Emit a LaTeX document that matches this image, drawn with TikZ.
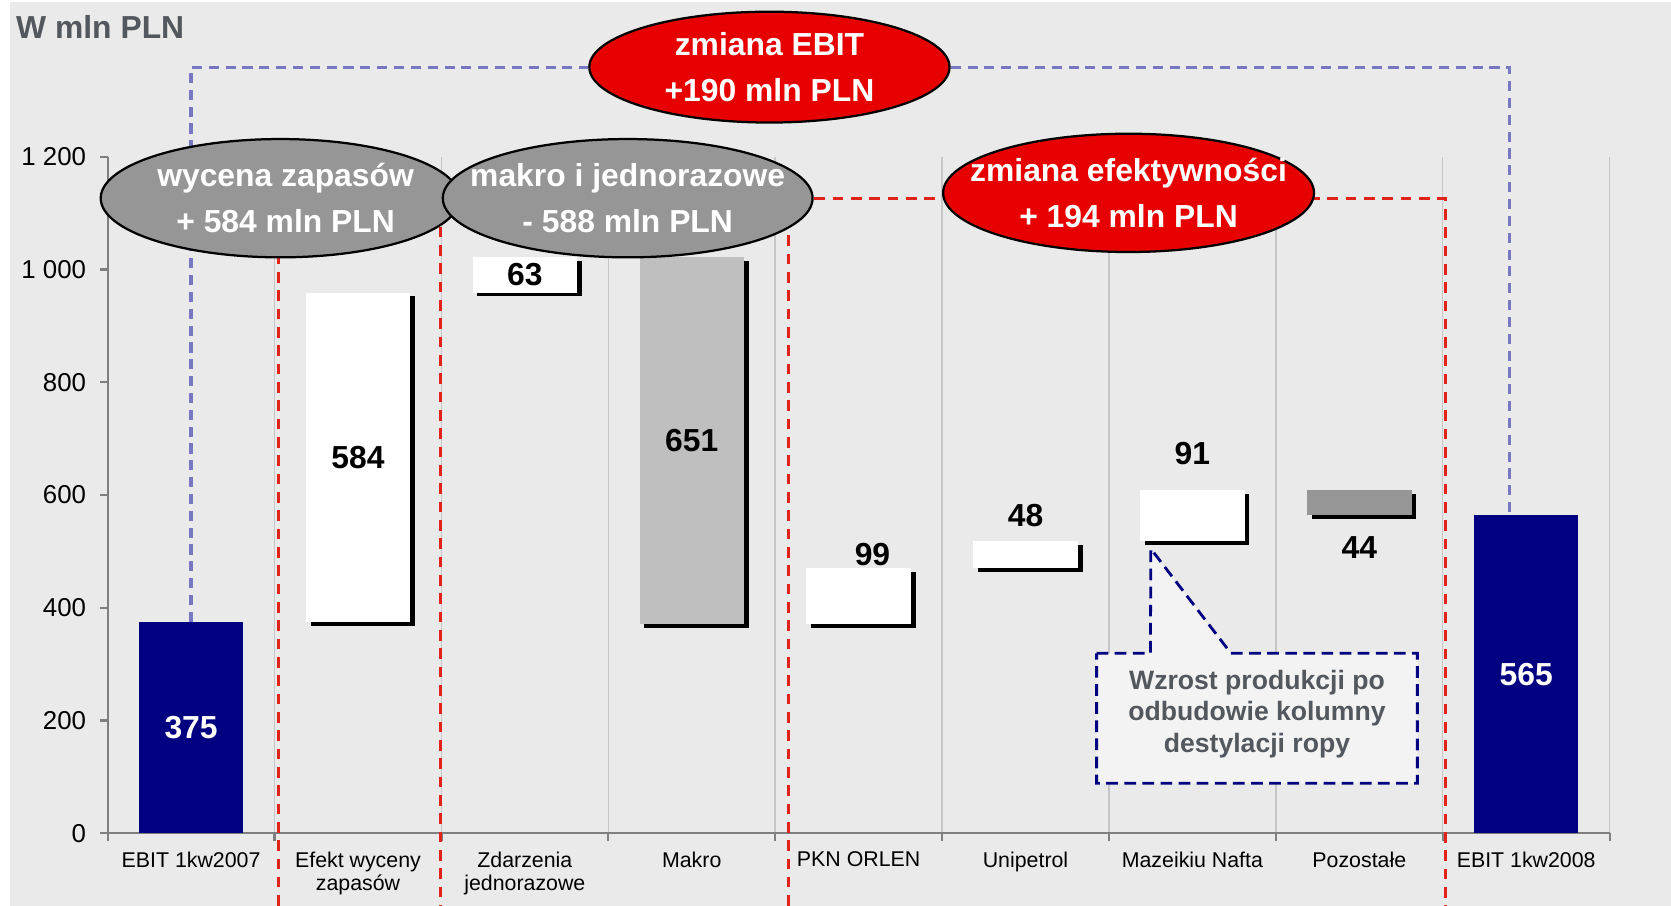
\documentclass[tikz,border=0pt]{standalone}
\usepackage{fontspec}
\setmainfont{Liberation Sans}
\usepackage{tikz}
\usetikzlibrary{positioning, shapes.geometric, shadows}
\definecolor{navybar}{HTML}{000080}
\definecolor{plotbg}{HTML}{EAEAEA}
\definecolor{gridgray}{HTML}{C6C6C6}
\definecolor{axisgray}{HTML}{7F7F7F}
\definecolor{ebitred}{HTML}{E60000}
\definecolor{dashred}{HTML}{E2231A}
\definecolor{dashblue}{HTML}{7878C2}
\definecolor{titlegray}{HTML}{52585D}
\definecolor{makrogray}{HTML}{BFBFBF}
\definecolor{ovalgray}{HTML}{969696}
\definecolor{notefill}{HTML}{F3F3F3}
\newcommand{\catw}{15.66mm}

\begin{document}
\begin{tikzpicture}[x=1mm, y=1mm,
	barstyle/.style={rectangle, minimum width=9.8mm, inner sep=0pt, outer sep=0pt,
		font=\bfseries\fontsize{8.5}{10}\selectfont},
	shadbar/.style={barstyle, fill=white,
		drop shadow={shadow xshift=0.45mm, shadow yshift=-0.35mm, opacity=1, fill=black}},
	oval/.style={ellipse, draw=black, line width=0.6pt, inner sep=0pt},
	ovaltext/.style={inner sep=0pt, align=center, text=white,
		font=\bfseries\fontsize{8.5}{12.2}\selectfont},
	vallabel/.style={inner sep=0pt, font=\bfseries\fontsize{8.5}{10}\selectfont},
	catlabel/.style={anchor=north, inner sep=0pt, align=center, font=\fontsize{5.7}{6.3}\selectfont},
	ylabel/.style={anchor=east, inner sep=0pt, font=\fontsize{6.9}{8}\selectfont},
	reddash/.style={draw=dashred, line width=0.85pt, dash pattern=on 1.0mm off 0.72mm},
	bluedash/.style={draw=dashblue, line width=0.85pt, dash pattern=on 0.95mm off 0.63mm},
	notestyle/.style={fill=notefill, draw=navybar, line width=0.75pt, dash pattern=on 1.1mm off 0.6mm},
	notetext/.style={inner sep=0pt, align=center, text=titlegray, font=\bfseries\fontsize{7.1}{8.5}\selectfont}
]

	\fill[white] (0,0) rectangle (156.8,85);
	\fill[plotbg] (0.94,0) rectangle (156.8,84.8);
	\useasboundingbox (0,0) rectangle (156.8,85);

	\node[anchor=west, inner sep=0pt, text=titlegray, font=\bfseries\fontsize{8.5}{10}\selectfont] at (1.45,82.5) (title) {W mln PLN};

	\foreach \k in {1,...,9} \draw[gridgray, line width=0.4pt] ({10.1+15.66*\k},6.8) -- ++(0,63.5);
	\draw[axisgray, line width=0.6pt] (10.1,70.3) -- (10.1,6.8) -- (151.04,6.8);
	\foreach \k in {0,...,9} \draw[axisgray, line width=0.6pt] ({10.1+15.66*\k},6.8) -- ++(0,-0.7);
	\foreach \v/\t in {0/0,200/200,400/400,600/600,800/800,1000/{1 000},1200/{1 200}} {
		\draw[axisgray, line width=0.6pt] (10.1,{6.8+0.0529*\v}) -- ++(-0.75,0);
		\node[ylabel] at (8.15,{6.8+0.0529*\v}) (y\v) {\t};
	}

	\draw[reddash] (26.1,0) -- (26.1,66.4) -- (41.3,66.4) -- (41.3,0);
	\draw[reddash] (74.0,0) |- (135.6,66.4) -- (135.6,0);

	\node[barstyle, fill=navybar, text=white, minimum height=19.84mm, anchor=south] at (17.93,6.8) (b1) {375};
	\node[shadbar, minimum height=30.89mm, anchor=south] at ([xshift=\catw]b1.north) (b2) {584};
	\node[shadbar, minimum height=3.33mm, anchor=south] at ([xshift=\catw]b2.north) (b3) {63};
	\node[shadbar, fill=makrogray, minimum height=34.44mm, anchor=north] at ([xshift=\catw]b3.north) (b4) {651};
	\node[shadbar, minimum height=5.24mm, anchor=south] at ([xshift=\catw]b4.south) (b5) {};
	\node[shadbar, minimum height=2.54mm, anchor=south] at ([xshift=\catw]b5.north) (b6) {};
	\node[shadbar, minimum height=4.81mm, anchor=south] at ([xshift=\catw]b6.north) (b7) {};
	\node[shadbar, fill=ovalgray, minimum height=2.33mm, anchor=north] at ([xshift=\catw]b7.north) (b8) {};
	\node[barstyle, fill=navybar, text=white, minimum height=29.89mm, anchor=south] at (143.21,6.8) (b9) {565};

	\node[vallabel, above=0.15mm of b5, xshift=1.3mm] (l5) {99};
	\node[vallabel, above=1.3mm of b6] (l6) {48};
	\node[vallabel, above=2.3mm of b7] (l7) {91};
	\node[vallabel, below=2.0mm of b8] (l8) {44};

	\node[catlabel, below=1.65mm of b1] (c1) {EBIT 1kw2007};
	\node[catlabel] at (b2 |- c1.north) (c2) {Efekt wyceny\\zapasów};
	\node[catlabel] at (b3 |- c1.north) (c3) {Zdarzenia\\jednorazowe};
	\node[catlabel] at (b4 |- c1.north) (c4) {Makro};
	\node[catlabel] at (b5 |- c1.north) (c5) {PKN ORLEN};
	\node[catlabel] at (b6 |- c1.north) (c6) {Unipetrol};
	\node[catlabel] at (b7 |- c1.north) (c7) {Mazeikiu Nafta};
	\node[catlabel] at (b8 |- c1.north) (c8) {Pozostałe};
	\node[catlabel] at (b9 |- c1.north) (c9) {EBIT 1kw2008};

	\coordinate (endtop) at ([xshift=-1.6mm]b9.north);
	\node[oval, fill=ebitred, minimum width=33.8mm, minimum height=10.4mm] at (72.2,78.7) (ebit) {};
	\draw[bluedash] (b1.north) |- (ebit.west);
	\draw[bluedash] (ebit.east) -| (endtop);
	\node[ovaltext] at (ebit.center) (ebitt) {zmiana EBIT\\+190 mln PLN};

	\node[oval, fill=ovalgray, minimum width=33.7mm, minimum height=11.1mm] at (26.3,66.4) (wyc) {};
	\node[ovaltext, xshift=0.5mm] at (wyc.center) (wyct) {wycena zapasów\\+ 584 mln PLN};
	\node[oval, fill=ovalgray, minimum width=34.7mm, minimum height=11.1mm] at (58.9,66.4) (mak) {};
	\node[ovaltext] at (mak.center) (makt) {makro i jednorazowe\\- 588 mln PLN};
	\node[oval, fill=ebitred, minimum width=34.8mm, minimum height=11.1mm] at (105.9,66.9) (eff) {};
	\node[ovaltext] at (eff.center) (efft) {zmiana efektywności\\+ 194 mln PLN};

	\coordinate (tip) at ([xshift=1mm, yshift=-0.7mm]b7.south west);
	\filldraw[notestyle] (102.9,23.7) -- (107.95,23.7) -- (tip) -- (115.5,23.7) -- (133.0,23.7)
		-- (133.0,11.5) -- (102.9,11.5) -- cycle;
	\node[notetext] at (117.95,18) (note) {Wzrost produkcji po\\odbudowie kolumny\\destylacji ropy};
\end{tikzpicture}
\end{document}
